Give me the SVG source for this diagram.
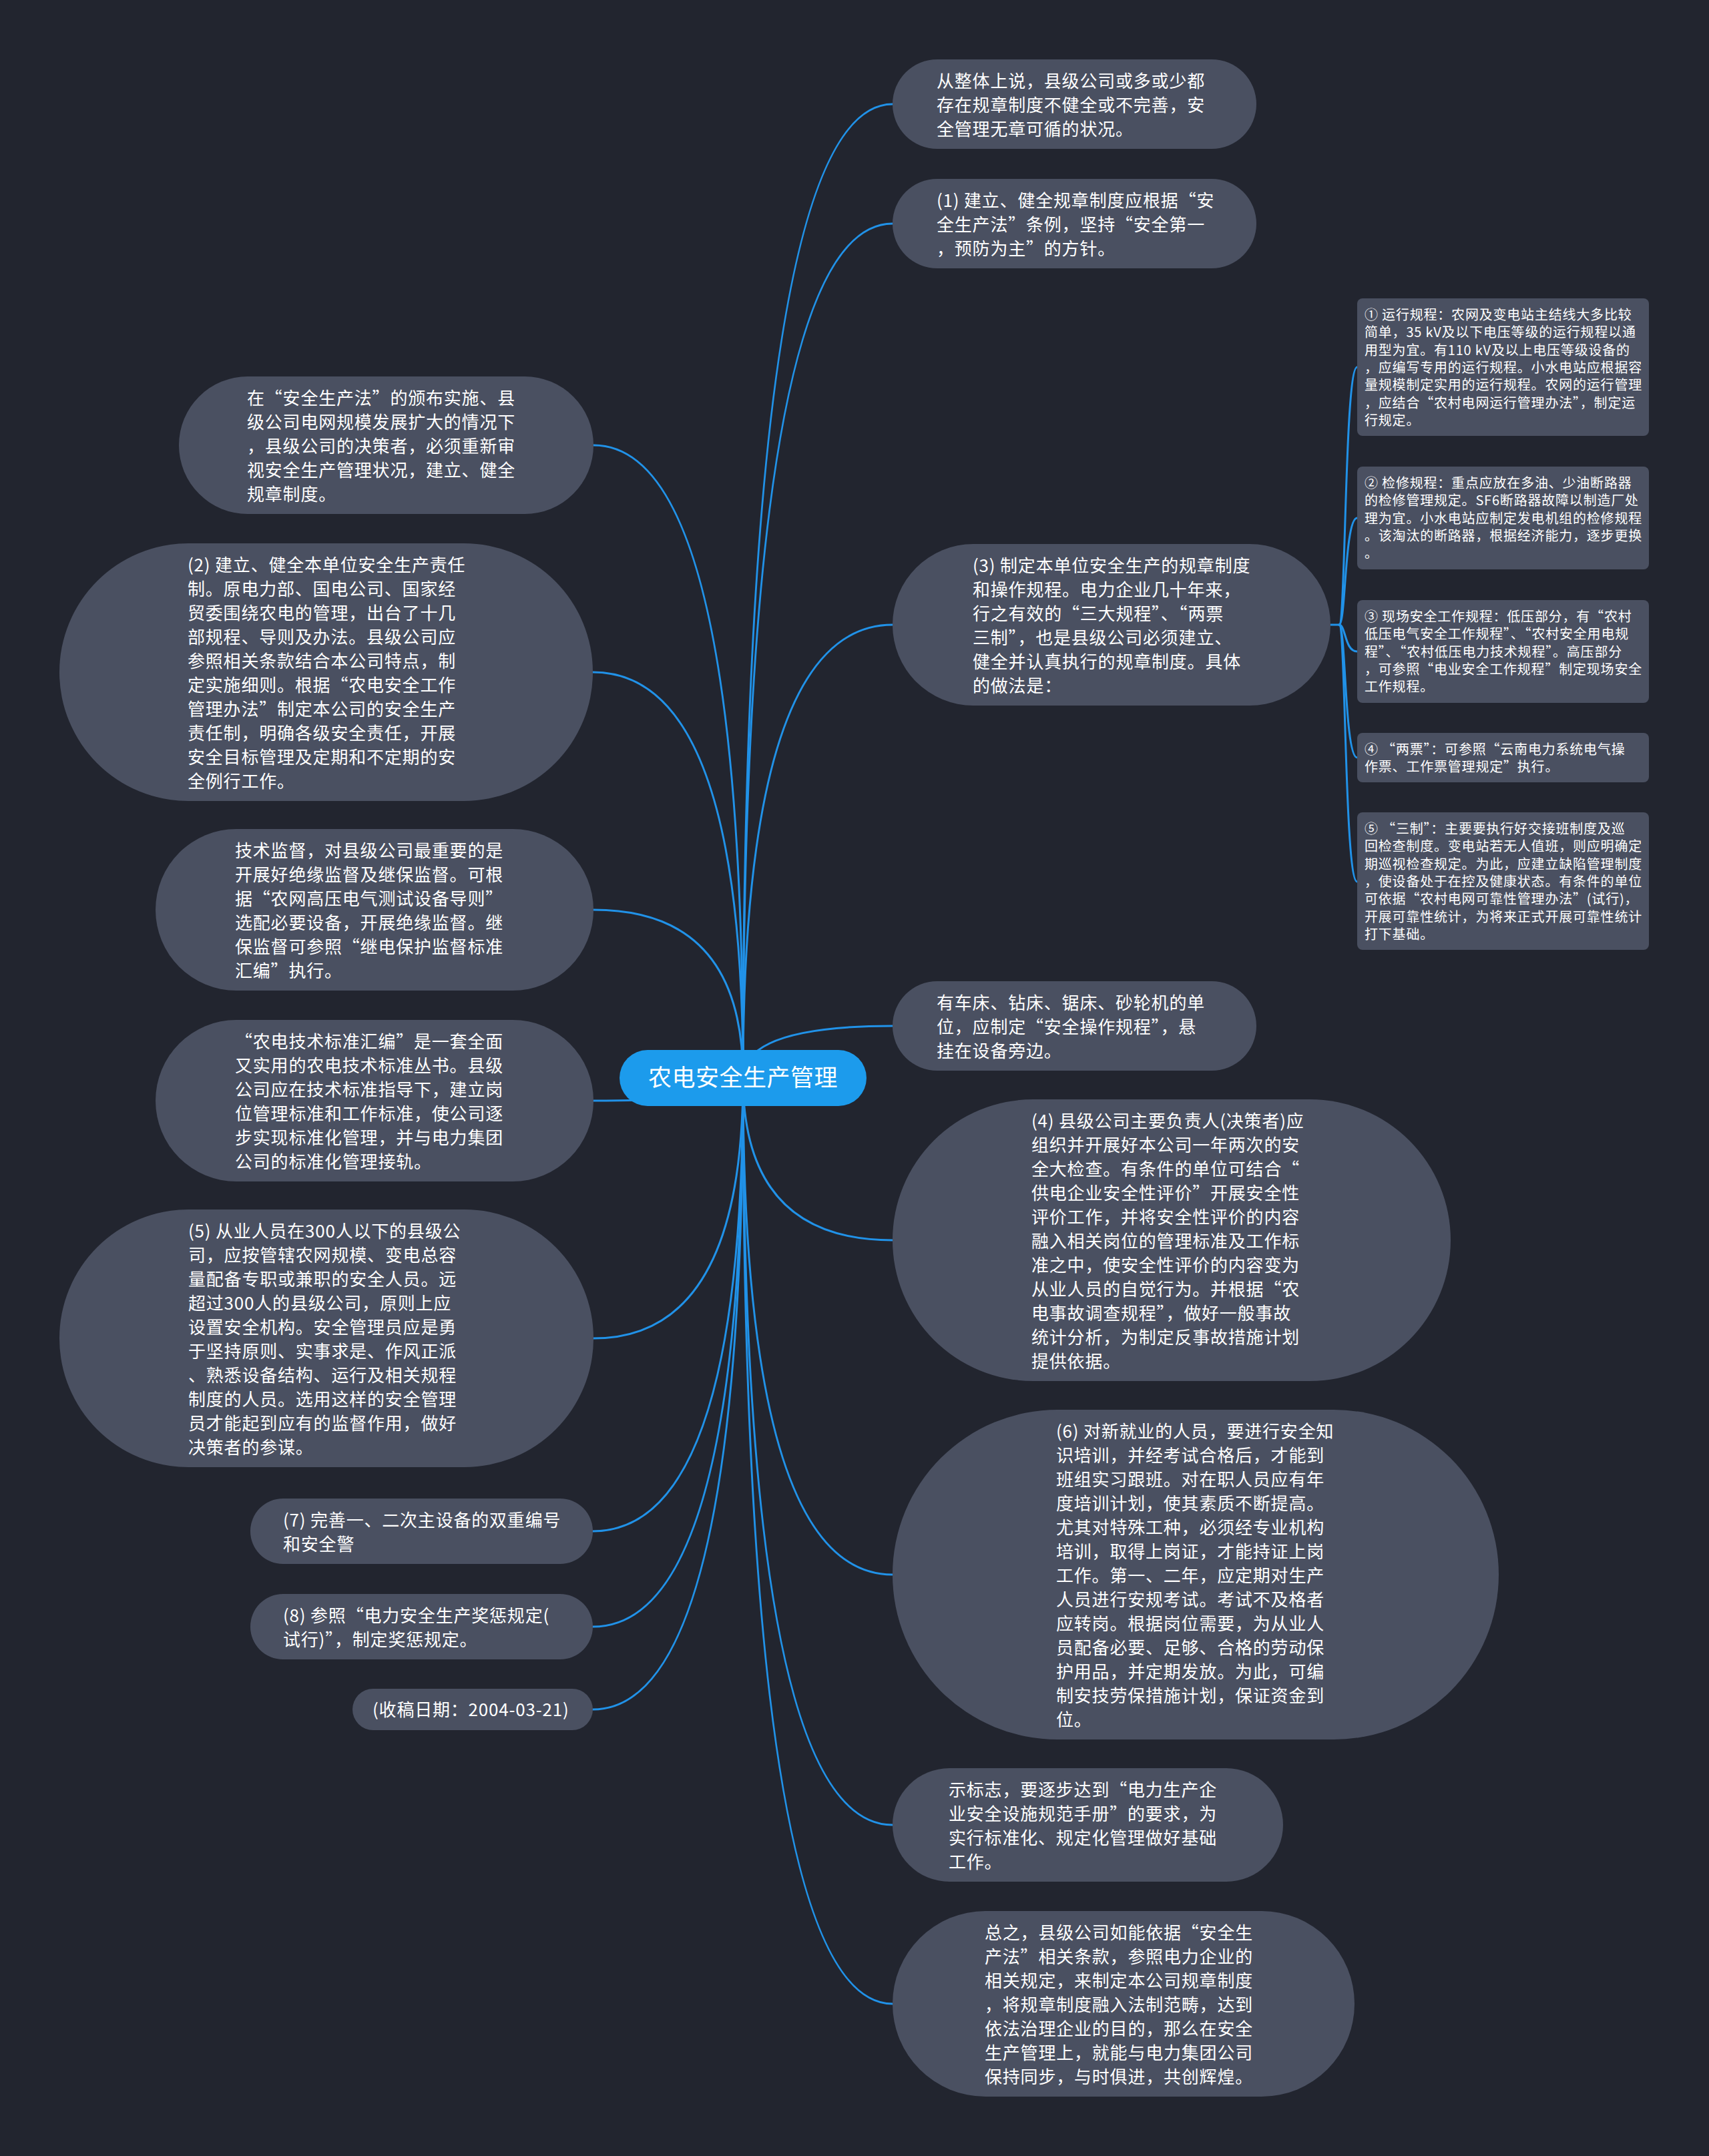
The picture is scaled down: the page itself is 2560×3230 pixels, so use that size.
<svg xmlns="http://www.w3.org/2000/svg" width="2560" height="3230" viewBox="0 0 2560 3230">
<style>
.node rect{fill:#4a5061}
.t{fill:#ffffff;font-family:"Noto Sans CJK SC","Microsoft YaHei",sans-serif;font-size:26px;letter-spacing:0.8px}
.s{fill:#ffffff;font-family:"Noto Sans CJK SC","Microsoft YaHei",sans-serif;font-size:20px;letter-spacing:0.8px}
.ln{fill:none;stroke:#2192e8;stroke-width:3;stroke-linecap:round}
</style>
<rect width="2560" height="3230" fill="#22252f"/>
<g id="connectors">
<path class="ln" d="M1113 1615 Q1113 156 1337 156"/>
<path class="ln" d="M1113 1615 Q1113 335 1337 335"/>
<path class="ln" d="M1113 1615 Q1113 936 1337 936"/>
<path class="ln" d="M1113 1615 Q1113 1537 1337 1537"/>
<path class="ln" d="M1113 1615 Q1113 1858 1337 1858"/>
<path class="ln" d="M1113 1615 Q1113 2359 1337 2359"/>
<path class="ln" d="M1113 1615 Q1113 2734 1337 2734"/>
<path class="ln" d="M1113 1615 Q1113 3002 1337 3002"/>
<path class="ln" d="M1113 1615 Q1113 667 889 667"/>
<path class="ln" d="M1113 1615 Q1113 1007 888 1007"/>
<path class="ln" d="M1113 1615 Q1113 1363 889 1363"/>
<path class="ln" d="M1113 1615 Q1113 1649 889 1649"/>
<path class="ln" d="M1113 1615 Q1113 2005 889 2005"/>
<path class="ln" d="M1113 1615 Q1113 2294 888 2294"/>
<path class="ln" d="M1113 1615 Q1113 2437 888 2437"/>
<path class="ln" d="M1113 1615 Q1113 2561 888 2561"/>
<path class="ln" d="M1993 936 L2006 936"/>
<path class="ln" d="M2006 936 C2016 936 2014 550 2033 550"/>
<path class="ln" d="M2006 936 C2016 936 2014 776 2033 776"/>
<path class="ln" d="M2006 936 C2016 936 2014 976 2033 976"/>
<path class="ln" d="M2006 936 C2016 936 2014 1135 2033 1135"/>
<path class="ln" d="M2006 936 C2016 936 2014 1321 2033 1321"/>
</g>
<g id="root">
<rect x="928" y="1573" width="370" height="84" rx="42" fill="#1c9bec"/>
<text x="1113" y="1627" text-anchor="middle" fill="#ffffff" font-family="Noto Sans CJK SC, Microsoft YaHei, sans-serif" font-size="35" letter-spacing="0.5">农电安全生产管理</text>
</g>
<g id="n-r1" class="node">
<rect x="1337" y="89" width="545" height="134" rx="67"/>
<text class="t"><tspan x="1403" y="131">从整体上说，县级公司或多或少都</tspan><tspan x="1403" y="167">存在规章制度不健全或不完善，安</tspan><tspan x="1403" y="203">全管理无章可循的状况。</tspan></text>
</g>
<g id="n-r2" class="node">
<rect x="1337" y="268" width="545" height="134" rx="67"/>
<text class="t"><tspan x="1403" y="310">(1) 建立、健全规章制度应根据“安</tspan><tspan x="1403" y="346">全生产法”条例，坚持“安全第一</tspan><tspan x="1403" y="382">，预防为主”的方针。</tspan></text>
</g>
<g id="n-r3" class="node">
<rect x="1337" y="815" width="656" height="242" rx="121"/>
<text class="t"><tspan x="1457" y="857">(3) 制定本单位安全生产的规章制度</tspan><tspan x="1457" y="893">和操作规程。电力企业几十年来，</tspan><tspan x="1457" y="929">行之有效的“三大规程”、“两票</tspan><tspan x="1457" y="965">三制”，也是县级公司必须建立、</tspan><tspan x="1457" y="1001">健全并认真执行的规章制度。具体</tspan><tspan x="1457" y="1037">的做法是：</tspan></text>
</g>
<g id="n-s1" class="node">
<rect x="2033" y="447" width="437" height="206" rx="8"/>
<text class="s"><tspan x="2044" y="479">① 运行规程：农网及变电站主结线大多比较</tspan><tspan x="2044" y="505">简单，35 kV及以下电压等级的运行规程以通</tspan><tspan x="2044" y="532">用型为宜。有110 kV及以上电压等级设备的</tspan><tspan x="2044" y="558">，应编写专用的运行规程。小水电站应根据容</tspan><tspan x="2044" y="584">量规模制定实用的运行规程。农网的运行管理</tspan><tspan x="2044" y="611">，应结合“农村电网运行管理办法”，制定运</tspan><tspan x="2044" y="637">行规定。</tspan></text>
</g>
<g id="n-s2" class="node">
<rect x="2033" y="699" width="437" height="154" rx="8"/>
<text class="s"><tspan x="2044" y="731">② 检修规程：重点应放在多油、少油断路器</tspan><tspan x="2044" y="757">的检修管理规定。SF6断路器故障以制造厂处</tspan><tspan x="2044" y="784">理为宜。小水电站应制定发电机组的检修规程</tspan><tspan x="2044" y="810">。该淘汰的断路器，根据经济能力，逐步更换</tspan><tspan x="2044" y="836">。</tspan></text>
</g>
<g id="n-s3" class="node">
<rect x="2033" y="899" width="437" height="154" rx="8"/>
<text class="s"><tspan x="2044" y="931">③ 现场安全工作规程：低压部分，有“农村</tspan><tspan x="2044" y="957">低压电气安全工作规程”、“农村安全用电规</tspan><tspan x="2044" y="984">程”、“农村低压电力技术规程”。高压部分</tspan><tspan x="2044" y="1010">，可参照“电业安全工作规程”制定现场安全</tspan><tspan x="2044" y="1036">工作规程。</tspan></text>
</g>
<g id="n-s4" class="node">
<rect x="2033" y="1098" width="437" height="74" rx="8"/>
<text class="s"><tspan x="2044" y="1130">④ “两票”：可参照“云南电力系统电气操</tspan><tspan x="2044" y="1156">作票、工作票管理规定”执行。</tspan></text>
</g>
<g id="n-s5" class="node">
<rect x="2033" y="1217" width="437" height="206" rx="8"/>
<text class="s"><tspan x="2044" y="1249">⑤ “三制”：主要要执行好交接班制度及巡</tspan><tspan x="2044" y="1275">回检查制度。变电站若无人值班，则应明确定</tspan><tspan x="2044" y="1302">期巡视检查规定。为此，应建立缺陷管理制度</tspan><tspan x="2044" y="1328">，使设备处于在控及健康状态。有条件的单位</tspan><tspan x="2044" y="1354">可依据“农村电网可靠性管理办法”(试行)，</tspan><tspan x="2044" y="1381">开展可靠性统计，为将来正式开展可靠性统计</tspan><tspan x="2044" y="1407">打下基础。</tspan></text>
</g>
<g id="n-r4" class="node">
<rect x="1337" y="1470" width="545" height="134" rx="67"/>
<text class="t"><tspan x="1403" y="1512">有车床、钻床、锯床、砂轮机的单</tspan><tspan x="1403" y="1548">位，应制定“安全操作规程”，悬</tspan><tspan x="1403" y="1584">挂在设备旁边。</tspan></text>
</g>
<g id="n-r5" class="node">
<rect x="1337" y="1647" width="836" height="422" rx="211"/>
<text class="t"><tspan x="1545" y="1689">(4) 县级公司主要负责人(决策者)应</tspan><tspan x="1545" y="1725">组织并开展好本公司一年两次的安</tspan><tspan x="1545" y="1761">全大检查。有条件的单位可结合“</tspan><tspan x="1545" y="1797">供电企业安全性评价”开展安全性</tspan><tspan x="1545" y="1833">评价工作，并将安全性评价的内容</tspan><tspan x="1545" y="1869">融入相关岗位的管理标准及工作标</tspan><tspan x="1545" y="1905">准之中，使安全性评价的内容变为</tspan><tspan x="1545" y="1941">从业人员的自觉行为。并根据“农</tspan><tspan x="1545" y="1977">电事故调查规程”，做好一般事故</tspan><tspan x="1545" y="2013">统计分析，为制定反事故措施计划</tspan><tspan x="1545" y="2049">提供依据。</tspan></text>
</g>
<g id="n-r6" class="node">
<rect x="1337" y="2112" width="908" height="494" rx="247"/>
<text class="t"><tspan x="1582" y="2154">(6) 对新就业的人员，要进行安全知</tspan><tspan x="1582" y="2190">识培训，并经考试合格后，才能到</tspan><tspan x="1582" y="2226">班组实习跟班。对在职人员应有年</tspan><tspan x="1582" y="2262">度培训计划，使其素质不断提高。</tspan><tspan x="1582" y="2298">尤其对特殊工种，必须经专业机构</tspan><tspan x="1582" y="2334">培训，取得上岗证，才能持证上岗</tspan><tspan x="1582" y="2370">工作。第一、二年，应定期对生产</tspan><tspan x="1582" y="2406">人员进行安规考试。考试不及格者</tspan><tspan x="1582" y="2442">应转岗。根据岗位需要，为从业人</tspan><tspan x="1582" y="2478">员配备必要、足够、合格的劳动保</tspan><tspan x="1582" y="2514">护用品，并定期发放。为此，可编</tspan><tspan x="1582" y="2550">制安技劳保措施计划，保证资金到</tspan><tspan x="1582" y="2586">位。</tspan></text>
</g>
<g id="n-r7" class="node">
<rect x="1337" y="2649" width="585" height="170" rx="85"/>
<text class="t"><tspan x="1421" y="2691">示标志，要逐步达到“电力生产企</tspan><tspan x="1421" y="2727">业安全设施规范手册”的要求，为</tspan><tspan x="1421" y="2763">实行标准化、规定化管理做好基础</tspan><tspan x="1421" y="2799">工作。</tspan></text>
</g>
<g id="n-r8" class="node">
<rect x="1337" y="2863" width="692" height="278" rx="139"/>
<text class="t"><tspan x="1475" y="2905">总之，县级公司如能依据“安全生</tspan><tspan x="1475" y="2941">产法”相关条款，参照电力企业的</tspan><tspan x="1475" y="2977">相关规定，来制定本公司规章制度</tspan><tspan x="1475" y="3013">，将规章制度融入法制范畴，达到</tspan><tspan x="1475" y="3049">依法治理企业的目的，那么在安全</tspan><tspan x="1475" y="3085">生产管理上，就能与电力集团公司</tspan><tspan x="1475" y="3121">保持同步，与时俱进，共创辉煌。</tspan></text>
</g>
<g id="n-l1" class="node">
<rect x="268" y="564" width="621" height="206" rx="103"/>
<text class="t"><tspan x="370" y="606">在“安全生产法”的颁布实施、县</tspan><tspan x="370" y="642">级公司电网规模发展扩大的情况下</tspan><tspan x="370" y="678">，县级公司的决策者，必须重新审</tspan><tspan x="370" y="714">视安全生产管理状况，建立、健全</tspan><tspan x="370" y="750">规章制度。</tspan></text>
</g>
<g id="n-l2" class="node">
<rect x="89" y="814" width="799" height="386" rx="193"/>
<text class="t"><tspan x="281" y="856">(2) 建立、健全本单位安全生产责任</tspan><tspan x="281" y="892">制。原电力部、国电公司、国家经</tspan><tspan x="281" y="928">贸委围绕农电的管理，出台了十几</tspan><tspan x="281" y="964">部规程、导则及办法。县级公司应</tspan><tspan x="281" y="1000">参照相关条款结合本公司特点，制</tspan><tspan x="281" y="1036">定实施细则。根据“农电安全工作</tspan><tspan x="281" y="1072">管理办法”制定本公司的安全生产</tspan><tspan x="281" y="1108">责任制，明确各级安全责任，开展</tspan><tspan x="281" y="1144">安全目标管理及定期和不定期的安</tspan><tspan x="281" y="1180">全例行工作。</tspan></text>
</g>
<g id="n-l3" class="node">
<rect x="233" y="1242" width="656" height="242" rx="121"/>
<text class="t"><tspan x="352" y="1284">技术监督，对县级公司最重要的是</tspan><tspan x="352" y="1320">开展好绝缘监督及继保监督。可根</tspan><tspan x="352" y="1356">据“农网高压电气测试设备导则”</tspan><tspan x="352" y="1392">选配必要设备，开展绝缘监督。继</tspan><tspan x="352" y="1428">保监督可参照“继电保护监督标准</tspan><tspan x="352" y="1464">汇编”执行。</tspan></text>
</g>
<g id="n-l4" class="node">
<rect x="233" y="1528" width="656" height="242" rx="121"/>
<text class="t"><tspan x="352" y="1570">“农电技术标准汇编”是一套全面</tspan><tspan x="352" y="1606">又实用的农电技术标准丛书。县级</tspan><tspan x="352" y="1642">公司应在技术标准指导下，建立岗</tspan><tspan x="352" y="1678">位管理标准和工作标准，使公司逐</tspan><tspan x="352" y="1714">步实现标准化管理，并与电力集团</tspan><tspan x="352" y="1750">公司的标准化管理接轨。</tspan></text>
</g>
<g id="n-l5" class="node">
<rect x="89" y="1812" width="800" height="386" rx="193"/>
<text class="t"><tspan x="282" y="1854">(5) 从业人员在300人以下的县级公</tspan><tspan x="282" y="1890">司，应按管辖农网规模、变电总容</tspan><tspan x="282" y="1926">量配备专职或兼职的安全人员。远</tspan><tspan x="282" y="1962">超过300人的县级公司，原则上应</tspan><tspan x="282" y="1998">设置安全机构。安全管理员应是勇</tspan><tspan x="282" y="2034">于坚持原则、实事求是、作风正派</tspan><tspan x="282" y="2070">、熟悉设备结构、运行及相关规程</tspan><tspan x="282" y="2106">制度的人员。选用这样的安全管理</tspan><tspan x="282" y="2142">员才能起到应有的监督作用，做好</tspan><tspan x="282" y="2178">决策者的参谋。</tspan></text>
</g>
<g id="n-l6" class="node">
<rect x="375" y="2245" width="513" height="98" rx="49"/>
<text class="t"><tspan x="424" y="2287">(7) 完善一、二次主设备的双重编号</tspan><tspan x="424" y="2323">和安全警</tspan></text>
</g>
<g id="n-l7" class="node">
<rect x="375" y="2388" width="513" height="98" rx="49"/>
<text class="t"><tspan x="424" y="2430">(8) 参照“电力安全生产奖惩规定(</tspan><tspan x="424" y="2466">试行)”，制定奖惩规定。</tspan></text>
</g>
<g id="n-l8" class="node">
<rect x="528" y="2530" width="360" height="62" rx="31"/>
<text class="t"><tspan x="558" y="2571">(收稿日期：2004-03-21)</tspan></text>
</g>
</svg>
